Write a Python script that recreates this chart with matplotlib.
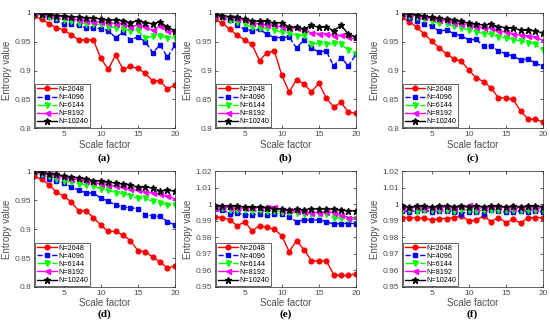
import matplotlib
matplotlib.use("Agg")
import matplotlib.pyplot as plt
from matplotlib.ticker import FuncFormatter

scale = list(range(1, 21))
labels = ["N=2048", "N=4096", "N=6144", "N=8192", "N=10240"]
captions = ["(a)", "(b)", "(c)", "(d)", "(e)", "(f)"]

# panel (a)
a_2048 = [0.994, 0.989, 0.981, 0.974, 0.970, 0.962, 0.953, 0.953, 0.953, 0.921,
          0.902, 0.927, 0.902, 0.907, 0.904, 0.895, 0.882, 0.882, 0.868, 0.875]
a_4096 = [0.998, 0.996, 0.993, 0.987, 0.980, 0.980, 0.978, 0.974, 0.974, 0.972,
          0.969, 0.957, 0.966, 0.953, 0.958, 0.950, 0.931, 0.944, 0.923, 0.944]
a_6144 = [0.998, 0.996, 0.993, 0.990, 0.988, 0.985, 0.983, 0.981, 0.980, 0.980,
          0.976, 0.974, 0.972, 0.969, 0.970, 0.956, 0.959, 0.960, 0.956, 0.956]
a_8192 = [0.999, 0.997, 0.996, 0.994, 0.993, 0.990, 0.987, 0.986, 0.984, 0.984,
          0.983, 0.981, 0.981, 0.975, 0.979, 0.975, 0.970, 0.977, 0.969, 0.966]
a_10240 = [1.000, 0.998, 0.997, 0.995, 0.994, 0.993, 0.993, 0.991, 0.991, 0.989,
           0.987, 0.988, 0.986, 0.983, 0.986, 0.983, 0.981, 0.984, 0.975, 0.969]

# panel (b)
b_2048 = [0.989, 0.982, 0.971, 0.961, 0.953, 0.945, 0.917, 0.931, 0.934, 0.892,
          0.863, 0.884, 0.877, 0.863, 0.878, 0.853, 0.837, 0.845, 0.828, 0.826]
b_4096 = [0.995, 0.992, 0.987, 0.978, 0.971, 0.969, 0.971, 0.963, 0.957, 0.957,
          0.958, 0.939, 0.953, 0.939, 0.932, 0.934, 0.908, 0.922, 0.908, 0.928]
b_6144 = [0.995, 0.992, 0.988, 0.984, 0.980, 0.975, 0.974, 0.973, 0.970, 0.966,
          0.965, 0.960, 0.961, 0.946, 0.947, 0.945, 0.947, 0.945, 0.936, 0.929]
b_8192 = [0.996, 0.993, 0.992, 0.989, 0.987, 0.983, 0.980, 0.979, 0.978, 0.975,
          0.974, 0.973, 0.971, 0.965, 0.964, 0.964, 0.960, 0.961, 0.958, 0.954]
b_10240 = [0.997, 0.995, 0.993, 0.992, 0.989, 0.986, 0.985, 0.985, 0.982, 0.983,
           0.975, 0.975, 0.972, 0.978, 0.975, 0.975, 0.969, 0.978, 0.963, 0.958]

# panel (c)
c_2048 = [0.992, 0.984, 0.975, 0.963, 0.951, 0.939, 0.929, 0.920, 0.916, 0.901,
          0.887, 0.881, 0.870, 0.853, 0.853, 0.850, 0.830, 0.816, 0.816, 0.811]
c_4096 = [0.998, 0.990, 0.986, 0.981, 0.977, 0.968, 0.970, 0.964, 0.960, 0.953,
          0.954, 0.942, 0.942, 0.934, 0.929, 0.925, 0.918, 0.920, 0.913, 0.907]
c_6144 = [0.998, 0.995, 0.992, 0.989, 0.985, 0.982, 0.980, 0.977, 0.974, 0.970,
          0.967, 0.964, 0.963, 0.958, 0.957, 0.953, 0.951, 0.948, 0.946, 0.935]
c_8192 = [0.999, 0.996, 0.995, 0.992, 0.990, 0.987, 0.986, 0.983, 0.981, 0.979,
          0.976, 0.974, 0.973, 0.968, 0.967, 0.964, 0.961, 0.960, 0.958, 0.952]
c_10240 = [0.999, 0.998, 0.996, 0.994, 0.992, 0.990, 0.989, 0.987, 0.985, 0.982,
           0.980, 0.979, 0.980, 0.976, 0.974, 0.973, 0.970, 0.970, 0.968, 0.965]

# panel (d)
d_2048 = [0.992, 0.986, 0.977, 0.964, 0.957, 0.947, 0.932, 0.932, 0.920, 0.907,
          0.896, 0.896, 0.890, 0.880, 0.863, 0.861, 0.852, 0.843, 0.833, 0.836]
d_4096 = [0.999, 0.994, 0.987, 0.984, 0.980, 0.973, 0.967, 0.963, 0.962, 0.954,
          0.948, 0.942, 0.938, 0.937, 0.935, 0.925, 0.923, 0.922, 0.913, 0.907]
d_6144 = [0.999, 0.996, 0.992, 0.987, 0.984, 0.981, 0.978, 0.977, 0.974, 0.970,
          0.967, 0.963, 0.961, 0.958, 0.953, 0.953, 0.948, 0.945, 0.942, 0.941]
d_8192 = [1.000, 0.997, 0.995, 0.992, 0.990, 0.987, 0.986, 0.983, 0.981, 0.978,
          0.977, 0.974, 0.972, 0.969, 0.967, 0.964, 0.963, 0.960, 0.958, 0.952]
d_10240 = [1.000, 0.998, 0.996, 0.995, 0.992, 0.990, 0.989, 0.987, 0.984, 0.983,
           0.981, 0.980, 0.978, 0.977, 0.972, 0.973, 0.971, 0.966, 0.967, 0.966]

# panel (e)
e_2048 = [0.9924, 0.9920, 0.9906, 0.9870, 0.9894, 0.9840, 0.9870, 0.9860, 0.9850, 0.9810,
          0.9714, 0.9780, 0.9726, 0.9660, 0.9656, 0.9660, 0.9575, 0.9570, 0.9570, 0.9580]
e_4096 = [0.9970, 0.9966, 0.9944, 0.9948, 0.9936, 0.9936, 0.9944, 0.9936, 0.9940, 0.9944,
          0.9924, 0.9896, 0.9906, 0.9904, 0.9906, 0.9896, 0.9880, 0.9884, 0.9884, 0.9884]
e_6144 = [0.9980, 0.9976, 0.9966, 0.9964, 0.9964, 0.9960, 0.9964, 0.9960, 0.9960, 0.9956,
          0.9956, 0.9950, 0.9944, 0.9944, 0.9944, 0.9944, 0.9920, 0.9916, 0.9910, 0.9910]
e_8192 = [0.9980, 0.9984, 0.9980, 0.9976, 0.9976, 0.9980, 0.9980, 0.9984, 0.9986, 0.9964,
          0.9964, 0.9960, 0.9956, 0.9950, 0.9950, 0.9956, 0.9950, 0.9936, 0.9920, 0.9916]
e_10240 = [0.9992, 0.9988, 0.9992, 0.9988, 0.9984, 0.9984, 0.9984, 0.9980, 0.9974, 0.9970,
           0.9964, 0.9970, 0.9966, 0.9974, 0.9970, 0.9974, 0.9970, 0.9964, 0.9960, 0.9960]

# panel (f)
f_2048 = [0.9920, 0.9920, 0.9920, 0.9916, 0.9906, 0.9914, 0.9914, 0.9920, 0.9930, 0.9900,
          0.9904, 0.9930, 0.9896, 0.9920, 0.9890, 0.9910, 0.9886, 0.9920, 0.9920, 0.9920]
f_4096 = [0.9960, 0.9956, 0.9960, 0.9964, 0.9952, 0.9960, 0.9960, 0.9952, 0.9944, 0.9956,
          0.9952, 0.9944, 0.9964, 0.9960, 0.9952, 0.9956, 0.9960, 0.9956, 0.9960, 0.9952]
f_6144 = [0.9964, 0.9964, 0.9960, 0.9968, 0.9964, 0.9964, 0.9968, 0.9960, 0.9968, 0.9968,
          0.9960, 0.9964, 0.9968, 0.9964, 0.9964, 0.9964, 0.9968, 0.9964, 0.9968, 0.9964]
f_8192 = [0.9980, 0.9978, 0.9982, 0.9980, 0.9976, 0.9980, 0.9982, 0.9978, 0.9984, 0.9994,
          0.9980, 0.9978, 0.9982, 0.9984, 0.9980, 0.9978, 0.9980, 0.9982, 0.9980, 0.9978]
f_10240 = [0.9988, 0.9982, 0.9988, 0.9990, 0.9982, 0.9988, 0.9990, 0.9986, 0.9988, 0.9984,
           0.9990, 0.9986, 0.9990, 0.9988, 0.9984, 0.9988, 0.9986, 0.9988, 0.9990, 0.9986]

panels = [
    [a_2048, a_4096, a_6144, a_8192, a_10240],
    [b_2048, b_4096, b_6144, b_8192, b_10240],
    [c_2048, c_4096, c_6144, c_8192, c_10240],
    [d_2048, d_4096, d_6144, d_8192, d_10240],
    [e_2048, e_4096, e_6144, e_8192, e_10240],
    [f_2048, f_4096, f_6144, f_8192, f_10240],
]

styles = [
    dict(color=(1, 0, 0), ls="-", marker="o", ms=3.4),
    dict(color=(0, 0, 1), ls="--", marker="s", ms=3.2),
    dict(color=(0, 1, 0), ls="-.", marker="v", ms=3.6),
    dict(color=(1, 0, 1), ls="-", marker="<", ms=3.6),
    dict(color=(0, 0, 0), ls="-", marker="*", ms=4.6),
]

plt.rcParams["font.family"] = ["Liberation Sans", "DejaVu Sans"]
fig = plt.figure(figsize=(5.5, 3.25), dpi=100)

lefts = [0.062, 0.391, 0.731]
bottoms = [0.605, 0.117]
w, h = 0.256, 0.356
gray = (0.15, 0.15, 0.15)
txt = (0.3, 0.3, 0.3)

for i, series in enumerate(panels):
    row, col = divmod(i, 3)
    ax = fig.add_axes([lefts[col], bottoms[row], w, h])
    for vals, lab, st in zip(series, labels, styles):
        ax.plot(scale, vals, label=lab, lw=1.0, mec=st["color"],
                mfc=st["color"], **st)
    ax.set_xlim(1, 20)
    ax.set_xticks([5, 10, 15, 20])
    if row == 0 or col == 0:
        ax.set_ylim(0.8, 1.0)
        ax.set_yticks([0.8, 0.85, 0.9, 0.95, 1.0])
    else:
        ax.set_ylim(0.95, 1.02)
        ax.set_yticks([0.95, 0.96, 0.97, 0.98, 0.99, 1.0, 1.01, 1.02])
    ax.yaxis.set_major_formatter(FuncFormatter(lambda v, p: "%g" % round(v, 4)))
    ax.tick_params(direction="in", top=True, right=True, length=2, width=0.5,
                   labelsize=6, colors=gray, labelcolor=txt, pad=2)
    for s in ax.spines.values():
        s.set_linewidth(0.5)
        s.set_color(gray)
    ax.set_xlabel("Scale factor", fontsize=7, color=txt, labelpad=1)
    ax.set_ylabel("Entropy value", fontsize=7, color=txt, labelpad=2)
    leg = ax.legend(loc="lower left", fontsize=5.2, handlelength=2.8,
                    handletextpad=0.2, labelspacing=0.15, borderpad=0.25,
                    borderaxespad=0.15, fancybox=False, framealpha=1)
    leg.get_frame().set_edgecolor(gray)
    leg.get_frame().set_linewidth(0.5)
    cy = 0.514 if row == 0 else 0.034
    fig.text(lefts[col] + w / 2, cy, captions[i], ha="center", va="center",
             fontsize=8, fontweight="bold", family="Liberation Serif")

fig.savefig("out.png", dpi=100)
